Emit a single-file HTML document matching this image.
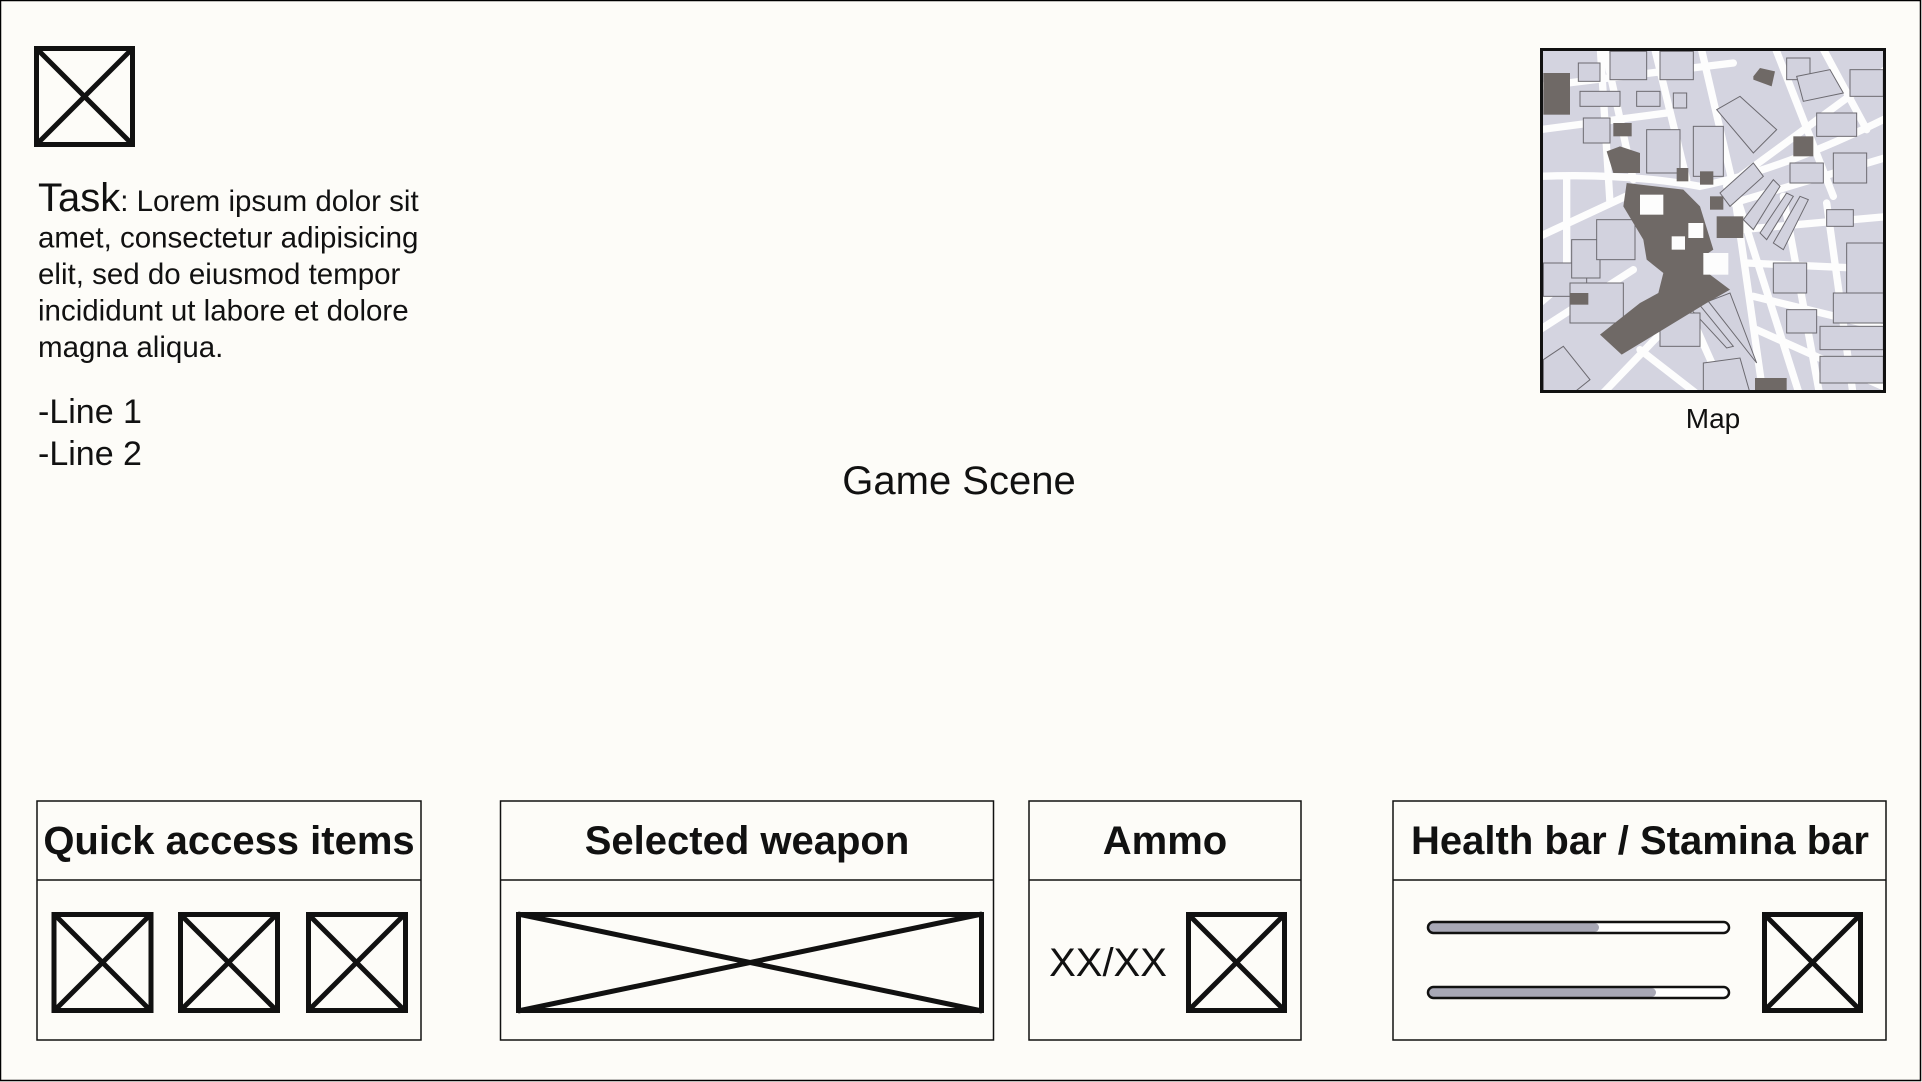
<!DOCTYPE html>
<html><head><meta charset="utf-8"><style>
html,body{margin:0;padding:0;background:#fdfcf8;}
svg{display:block;font-family:"Liberation Sans",Arial,sans-serif;}
</style></head><body>
<svg width="1922" height="1082" viewBox="0 0 1922 1082">
<rect x="0.5" y="0.5" width="1920" height="1080" fill="#fdfcf8" stroke="#000" stroke-width="1.5"/>

<g fill="none" stroke="#111" stroke-width="5">
<rect x="36.5" y="48.5" width="96" height="96"/><line x1="36" y1="48" x2="133" y2="145"/><line x1="133" y1="48" x2="36" y2="145"/></g>

<g fill="#111" font-size="29.5">
<text x="38" y="211"><tspan font-size="40">Task</tspan>: Lorem ipsum dolor sit</text>
<text x="38" y="247.5">amet, consectetur adipisicing</text>
<text x="38" y="284">elit, sed do eiusmod tempor</text>
<text x="38" y="320.5">incididunt ut labore et dolore</text>
<text x="38" y="357">magna aliqua.</text>
</g>
<text x="38" y="423" font-size="34" fill="#111">-Line 1</text>
<text x="38" y="465" font-size="34" fill="#111">-Line 2</text>

<text x="959" y="494" font-size="40" text-anchor="middle" fill="#111">Game Scene</text>

<defs><clipPath id="mc"><rect x="1540" y="48" width="346" height="345"/></clipPath></defs>
<g clip-path="url(#mc)">
<rect x="1540" y="48" width="346" height="345" fill="#d4d4e0"/>
<g transform="translate(1540,48) scale(0.33333) translate(-120,-55)" stroke="#6c6a70" stroke-width="3" fill="#d2d2de">
<g stroke="#fdfdfd" stroke-width="22" fill="none" stroke-linecap="round">
<path d="M120,440 Q380,430 600,470 Q850,420 1170,260"/>
<path d="M600,40 L700,470 L790,1100"/>
<path d="M460,40 L560,450"/><path d="M310,40 L400,450"/>
<path d="M680,470 L1170,110"/><path d="M700,520 L1170,380"/><path d="M720,600 L1170,560"/>
<path d="M740,700 L1170,720"/><path d="M760,800 L1170,900"/><path d="M770,900 L1170,1080"/>
<path d="M820,40 L1000,500"/><path d="M960,40 L1100,300"/><path d="M700,470 L900,1100"/>
<path d="M850,500 L960,1100"/><path d="M980,520 L1060,1100"/>
<path d="M120,170 L700,100"/><path d="M120,300 L500,250"/><path d="M300,40 L330,520"/>
<path d="M120,620 L420,480"/><path d="M120,900 L400,720"/><path d="M300,1100 L560,830 L680,1100"/>
<path d="M200,440 L200,700"/><path d="M380,600 L120,820"/><path d="M420,960 L600,1100"/>
</g>
<rect x="235" y="100" width="65" height="55"/><rect x="330" y="65" width="110" height="85"/><rect x="480" y="65" width="100" height="85"/>
<rect x="410" y="185" width="70" height="45"/><rect x="520" y="190" width="40" height="45"/><rect x="240" y="185" width="120" height="45"/>
<rect x="250" y="265" width="80" height="75"/>
<rect x="440" y="300" width="100" height="130"/><rect x="580" y="290" width="90" height="150"/><polygon points="650,240 720,200 830,300 760,370"/>
<rect x="860" y="85" width="70" height="65"/><polygon points="890,140 990,120 1030,190 910,215"/>
<rect x="1050" y="120" width="100" height="80"/><rect x="950" y="250" width="120" height="70"/><rect x="1000" y="370" width="100" height="90"/>
<rect x="870" y="400" width="100" height="60"/>
<polygon points="660,490 760,400 790,440 690,530"/><polygon points="730,570 820,450 840,470 760,600"/><polygon points="780,610 860,490 880,500 800,630"/>
<polygon points="820,640 900,500 925,510 850,660"/>
<rect x="980" y="540" width="80" height="50"/><rect x="1040" y="640" width="110" height="150"/><rect x="1000" y="790" width="150" height="90"/>
<rect x="820" y="700" width="100" height="90"/><rect x="860" y="840" width="90" height="70"/>
<rect x="960" y="890" width="190" height="70"/><rect x="960" y="980" width="190" height="80"/>
<polygon points="625,815 690,790 770,1000"/><polygon points="560,825 590,815 700,950 680,955"/>
<rect x="480" y="850" width="120" height="100"/><polygon points="610,1000 720,985 750,1090 610,1090"/>
<rect x="130" y="700" width="130" height="100"/><rect x="215" y="630" width="85" height="115"/><rect x="290" y="570" width="115" height="120"/>
<rect x="210" y="760" width="160" height="120"/>
<polygon points="130,990 190,950 270,1050 220,1090 130,1090"/>
<g fill="#6f6966" stroke="none">
<polygon points="380,460 550,480 600,530 640,660 610,680 630,735 690,780 620,820 365,975 300,915 420,820 475,790 490,730 440,690 430,630 370,530"/>
<rect x="130" y="130" width="80" height="125"/><rect x="340" y="280" width="55" height="40"/><polygon points="320,365 360,350 420,370 420,430 340,430"/>
<rect x="880" y="320" width="60" height="60"/><polygon points="760,140 780,115 825,125 815,170 760,150"/><rect x="650" y="560" width="80" height="65"/>
<rect x="765" y="1045" width="95" height="45"/><rect x="210" y="790" width="55" height="35"/><rect x="530" y="415" width="35" height="40"/><rect x="600" y="425" width="40" height="40"/>
<rect x="630" y="500" width="40" height="40"/>
</g>
<g fill="#fdfdfd" stroke="none"><rect x="420" y="495" width="70" height="60"/><rect x="565" y="580" width="45" height="45"/><rect x="515" y="620" width="40" height="40"/><rect x="610" y="670" width="75" height="65"/></g>
</g>
<rect x="1541.5" y="49.5" width="343" height="342" fill="none" stroke="#111" stroke-width="3"/>
</g>
<text x="1713" y="428" font-size="28" text-anchor="middle" fill="#111">Map</text>

<g fill="none" stroke="#111" stroke-width="1.5">
<rect x="37" y="801" width="384" height="239"/><line x1="37" y1="880" x2="421" y2="880"/></g>
<text x="229" y="854" font-size="40" font-weight="bold" text-anchor="middle" fill="#111">Quick access items</text>
<g fill="none" stroke="#111" stroke-width="5">
<g><rect x="54" y="914.5" width="97" height="96"/><line x1="54" y1="914" x2="151" y2="1011"/><line x1="151" y1="914" x2="54" y2="1011"/></g>
<g><rect x="180.5" y="914.5" width="97" height="96"/><line x1="180" y1="914" x2="277" y2="1011"/><line x1="277" y1="914" x2="180" y2="1011"/></g>
<g><rect x="308.5" y="914.5" width="97" height="96"/><line x1="308" y1="914" x2="405" y2="1011"/><line x1="405" y1="914" x2="308" y2="1011"/></g>
</g>

<g fill="none" stroke="#111" stroke-width="1.5">
<rect x="500.5" y="801" width="493" height="239"/><line x1="500" y1="880" x2="994" y2="880"/></g>
<text x="747" y="854" font-size="40" font-weight="bold" text-anchor="middle" fill="#111">Selected weapon</text>
<g fill="none" stroke="#111" stroke-width="5">
<rect x="518.5" y="914.5" width="463" height="96"/><line x1="518" y1="914" x2="982" y2="1011"/><line x1="982" y1="914" x2="518" y2="1011"/></g>

<g fill="none" stroke="#111" stroke-width="1.5">
<rect x="1029" y="801" width="272" height="239"/><line x1="1029" y1="880" x2="1301" y2="880"/></g>
<text x="1165" y="854" font-size="40" font-weight="bold" text-anchor="middle" fill="#111">Ammo</text>
<text x="1108" y="976" font-size="40" text-anchor="middle" fill="#111">XX/XX</text>
<g fill="none" stroke="#111" stroke-width="5">
<rect x="1188.5" y="914.5" width="96" height="96"/><line x1="1188" y1="914" x2="1285" y2="1011"/><line x1="1285" y1="914" x2="1188" y2="1011"/></g>

<g fill="none" stroke="#111" stroke-width="1.5">
<rect x="1393" y="801" width="493" height="239"/><line x1="1393" y1="880" x2="1886" y2="880"/></g>
<text x="1640" y="854" font-size="40" font-weight="bold" text-anchor="middle" fill="#111">Health bar / Stamina bar</text>
<g>
<rect x="1428" y="922" width="301" height="11" rx="5.5" fill="#fff"/>
<rect x="1429" y="923" width="170" height="9" rx="4.5" fill="#a8a8b6"/>
<rect x="1428" y="922" width="301" height="11" rx="5.5" fill="none" stroke="#111" stroke-width="2.5"/></g>
<g>
<rect x="1428" y="987" width="301" height="11" rx="5.5" fill="#fff"/>
<rect x="1429" y="988" width="227" height="9" rx="4.5" fill="#a8a8b6"/>
<rect x="1428" y="987" width="301" height="11" rx="5.5" fill="none" stroke="#111" stroke-width="2.5"/></g>
<g fill="none" stroke="#111" stroke-width="5">
<rect x="1764.5" y="914.5" width="96" height="96"/><line x1="1764" y1="914" x2="1861" y2="1011"/><line x1="1861" y1="914" x2="1764" y2="1011"/></g>
</svg>
</body></html>
